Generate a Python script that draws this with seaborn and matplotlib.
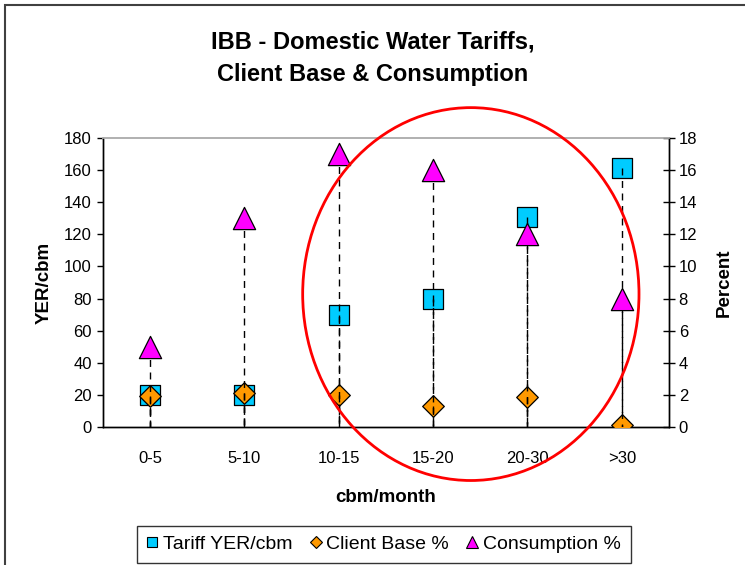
import numpy as np
import matplotlib
matplotlib.use("Agg")
import matplotlib.pyplot as plt
from matplotlib.lines import Line2D
from matplotlib.patches import Ellipse, Rectangle
import seaborn as sns

# ============================================================
#  Data
# ============================================================
categories = ['0-5', '5-10', '10-15', '15-20', '20-30', '>30']
tariff = [20, 20, 70, 80, 131, 161]            # YER/cbm, left axis
client_base = [1.95, 2.1, 2.0, 1.3, 1.85, 0.1]  # percent, right axis
consumption = [5, 13, 17, 16, 12, 8]            # percent, right axis

left_ticks = list(range(0, 181, 20))
right_ticks = list(range(0, 19, 2))

# ============================================================
#  Style
# ============================================================
sns.set_style("white")
plt.rcParams['font.family'] = ['Liberation Sans', 'DejaVu Sans']
plt.rcParams['text.color'] = 'black'
plt.rcParams['axes.labelcolor'] = 'black'
plt.rcParams['xtick.color'] = 'black'
plt.rcParams['ytick.color'] = 'black'

c_tariff = '#00CCFF'
c_client = '#FF9900'
c_cons = '#FF00FF'
dash = (0, (5, 4))

fig = plt.figure(figsize=(7.45, 5.65), dpi=100)
ax = fig.add_axes([0.138, 0.2442, 0.760, 0.5116])
ax2 = ax.twinx()

x = np.arange(len(categories)) + 0.5

# primary axis: tariff (drop lines drawn from the point down, like Excel)
sns.scatterplot(x=x, y=tariff, marker='s', s=225, color=c_tariff,
                edgecolor='black', linewidth=0.9, ax=ax, zorder=3, legend=False)
ax.vlines(x, tariff, 0, colors='black', linestyles=dash, lw=1.0, zorder=4)

# secondary axis: percentages
sns.scatterplot(x=x, y=client_base, marker='D', s=121, color=c_client,
                edgecolor='black', linewidth=0.9, ax=ax2, zorder=3, legend=False)
ax2.vlines(x, client_base, 0, colors='black', linestyles=dash, lw=1.0, zorder=4)
ax2.vlines(x, consumption, 0, colors='black', linestyles=dash, lw=1.0, zorder=4)
sns.scatterplot(x=x, y=consumption, marker='^', s=256, color=c_cons,
                edgecolor='black', linewidth=0.9, ax=ax2, zorder=5, legend=False)

# axes limits & ticks
ax.set_xlim(0, len(categories))
ax.set_ylim(0, 180)
ax2.set_ylim(0, 18)
ax.set_yticks(left_ticks)
ax2.set_yticks(right_ticks)
ax.set_xticks(x)
ax.set_xticklabels(categories)
ax.set_xticks(np.arange(len(categories) + 1), minor=True)
ax.tick_params(axis='x', which='major', length=0, pad=17, labelsize=12)
ax.tick_params(axis='x', which='minor', direction='inout', length=8, width=1, color='black')
ax.tick_params(axis='y', direction='out', length=4, width=1, color='black', labelsize=12, pad=4)
ax2.tick_params(axis='y', direction='inout', length=8, width=1, color='black', labelsize=12, pad=3)

for a in (ax, ax2):
    for side in ('left', 'right', 'bottom'):
        a.spines[side].set_color('black')
        a.spines[side].set_linewidth(1.0)
    a.spines['top'].set_color('#b0b0b0')
    a.spines['top'].set_linewidth(1.2)

ax.set_ylabel('YER/cbm', fontsize=13.5, fontweight='bold', labelpad=8)
ax2.set_ylabel('Percent', fontsize=13.5, fontweight='bold', labelpad=13)
ax.set_xlabel('cbm/month', fontsize=13.5, fontweight='bold', labelpad=17)

fig.text(0.5, 0.897, 'IBB - Domestic Water Tariffs,\nClient Base & Consumption',
         ha='center', va='center', fontsize=17, fontweight='bold', linespacing=1.5)

# red highlight ellipse
ell = Ellipse((0.650, 0.460), 0.594, 1.29, transform=ax.transAxes, fill=False,
              edgecolor='red', lw=2.0, clip_on=False, zorder=10)
ax2.add_patch(ell)

# legend
handles = [
    Line2D([], [], ls='none', marker='s', ms=7, mfc=c_tariff, mec='black', mew=0.8),
    Line2D([], [], ls='none', marker='D', ms=6.5, mfc=c_client, mec='black', mew=0.8),
    Line2D([], [], ls='none', marker='^', ms=8, mfc=c_cons, mec='black', mew=0.8),
]
labels = ['Tariff YER/cbm', 'Client Base %', 'Consumption %']
leg = fig.legend(handles, labels, loc='lower center', bbox_to_anchor=(0.515, 0.004),
                 ncol=3, fontsize=14, frameon=True, fancybox=False, borderpad=0.5,
                 handlelength=0.6, handletextpad=0.25, columnspacing=0.9,
                 borderaxespad=0)
leg.get_frame().set_edgecolor('black')
leg.get_frame().set_linewidth(1.0)

# outer chart border
fig.patches.append(Rectangle((5 / 745, -0.05), 1.1, 1 - 5 / 565 + 0.05,
                             transform=fig.transFigure, fill=False,
                             edgecolor='#404040', lw=1.5))

fig.savefig('out.png', dpi=100)
